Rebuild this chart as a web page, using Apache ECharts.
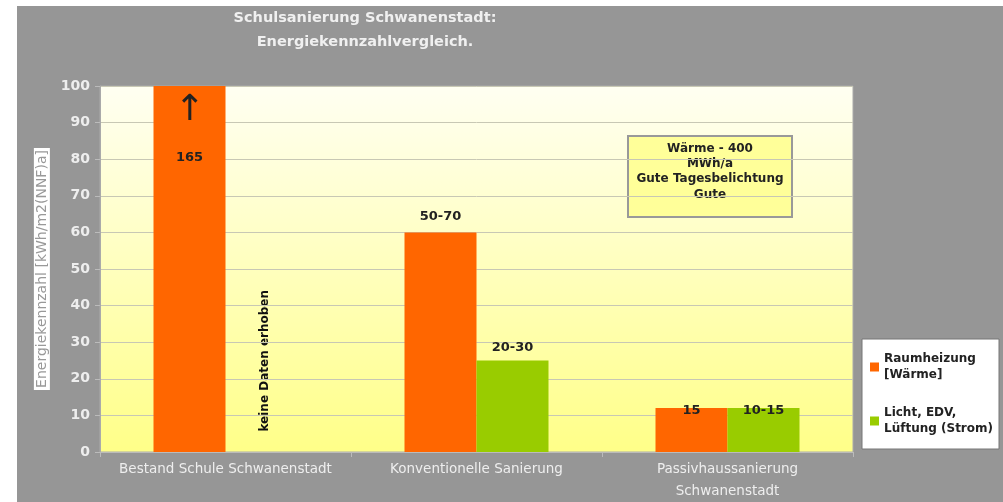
<!DOCTYPE html>
<html>
<head>
<meta charset="utf-8">
<script src="https://cdn.jsdelivr.net/npm/echarts@6/dist/echarts.min.js"></script>
<style>
  html, body { margin: 0; padding: 0; background: #fff; }
  #chart { position: absolute; left: 17px; top: 6px; width: 986px; height: 496px; background: #969696; }
</style>
</head>
<body>
<div id="chart"></div>
<script>
const categories = ['Bestand Schule Schwanenstadt', 'Konventionelle Sanierung', 'Passivhaussanierung\nSchwanenstadt']
const heatValues = [165, 60, 12]
const heatLabels = ['165', '50-70', '15']
const elecValues = [null, 25, 12]
const elecLabels = ['', '20-30', '10-15']
const seriesNames = ['Raumheizung\n[Wärme]', 'Licht, EDV,\nLüftung (Strom)']
const noteLines = ['Wärme - 400', 'MWh/a', 'Gute Tagesbelichtung', 'Gute']

const font = 'DejaVu Sans'
const myChart = echarts.init(document.getElementById('chart'))

// gap between bar top and its label, per category
const heatGaps = [0, 9, -9]
const elecGaps = [0, 6, -9]

const labelStyle = {
  show: true,
  position: 'top',
  color: '#222',
  fontFamily: font,
  fontWeight: 'bold',
  fontSize: 13
}

const heatData = heatValues.map((v, i) => {
  if (i === 0) {
    // bar goes off the scale: arrow + real value inside
    return {
      value: v,
      label: {
        show: true,
        position: 'insideTop',
        distance: 6,
        formatter: '{arrow|↑}\n{num|' + heatLabels[i] + '}',
        rich: {
          arrow: { fontSize: 36, lineHeight: 38, color: '#222', fontFamily: font },
          num: { fontSize: 13, lineHeight: 56, color: '#222', fontWeight: 'bold', fontFamily: font }
        }
      }
    }
  }
  return { value: v, label: Object.assign({}, labelStyle, { formatter: heatLabels[i], distance: heatGaps[i] }) }
})
const elecData = elecValues.map((v, i) => ({
  value: v,
  label: Object.assign({}, labelStyle, { formatter: elecLabels[i], distance: elecGaps[i] })
}))

const option = {
  animation: false,
  title: {
    text: 'Schulsanierung Schwanenstadt:\nEnergiekennzahlvergleich.',
    left: 348,
    top: 0,
    padding: 0,
    textAlign: 'center',
    textStyle: { color: '#f0f0f0', fontFamily: font, fontWeight: 'bold', fontSize: 14.5, lineHeight: 24 }
  },
  legend: {
    orient: 'vertical',
    left: 845,
    top: 333,
    padding: [12, 6, 12, 8],
    backgroundColor: '#fff',
    borderColor: '#777',
    borderWidth: 1,
    itemWidth: 9,
    itemHeight: 9,
    itemGap: 22,
    icon: 'rect',
    textStyle: { color: '#222', fontFamily: font, fontWeight: 'bold', fontSize: 12, lineHeight: 16 },
    data: seriesNames
  },
  grid: {
    left: 83,
    right: 150,
    top: 80,
    bottom: 50,
    outerBoundsMode: 'none',
    show: true,
    borderColor: '#aaa',
    borderWidth: 1,
    backgroundColor: new echarts.graphic.LinearGradient(0, 0, 0, 1, [
      { offset: 0, color: '#fffff2' },
      { offset: 1, color: '#ffff88' }
    ])
  },
  xAxis: {
    type: 'category',
    data: categories,
    axisLine: { lineStyle: { color: '#bbb' } },
    axisTick: { show: true, length: 5, lineStyle: { color: '#bbb' } },
    axisLabel: { color: '#eeeeee', fontFamily: font, fontSize: 13.5, margin: 6, lineHeight: 22, interval: 0 }
  },
  yAxis: {
    type: 'value',
    min: 0,
    max: 100,
    interval: 10,
    name: 'Energiekennzahl [kWh/m2(NNF)a]',
    nameLocation: 'middle',
    nameGap: 50,
    nameTextStyle: { color: '#999', fontFamily: font, fontSize: 14, backgroundColor: '#fff', padding: [1, 2] },
    axisLine: { show: true, lineStyle: { color: '#aaa' } },
    axisTick: { show: true, length: 5, lineStyle: { color: '#bbb' } },
    axisLabel: { color: '#eeeeee', fontFamily: font, fontWeight: 'bold', fontSize: 14, margin: 10 },
    splitLine: { lineStyle: { color: '#c8c8b4' } }
  },
  series: [
    {
      name: seriesNames[0],
      type: 'bar',
      barWidth: 72,
      barGap: '0%',
      itemStyle: { color: '#ff6600' },
      data: heatData
    },
    {
      name: seriesNames[1],
      type: 'bar',
      barWidth: 72,
      itemStyle: { color: '#99cc00' },
      data: elecData
    }
  ],
  graphic: [
    {
      type: 'text',
      left: 242,
      top: 284,
      rotation: Math.PI / 2,
      style: { text: 'keine Daten erhoben', fill: '#111', font: 'bold 12px "DejaVu Sans"' }
    },
    {
      type: 'group',
      left: 610,
      top: 129,
      children: [
        {
          type: 'rect',
          shape: { x: 0, y: 0, width: 164, height: 81 },
          style: { fill: '#ffff99', stroke: '#999', lineWidth: 2 }
        },
        {
          type: 'text',
          x: 82,
          y: 5,
          style: {
            text: noteLines.join('\n'),
            align: 'center',
            fill: '#222',
            font: 'bold 12px "DejaVu Sans"',
            lineHeight: 15.3
          }
        }
      ]
    }
  ]
}

myChart.setOption(option)
</script>
</body>
</html>
